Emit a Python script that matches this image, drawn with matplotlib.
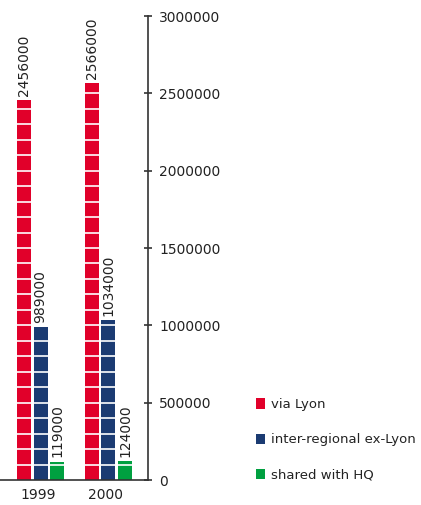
import matplotlib
matplotlib.use("Agg")
import matplotlib.pyplot as plt
from matplotlib.patches import Patch
import numpy as np

years = ["1999", "2000"]
series = ["via Lyon", "inter-regional ex-Lyon", "shared with HQ"]
via_lyon = [2456000, 2566000]
inter_regional = [989000, 1034000]
shared_hq = [119000, 124000]
yticks = [0, 500000, 1000000, 1500000, 2000000, 2500000, 3000000]

colors = ["#E1002A", "#1B3B72", "#00A040"]
txt = "#222222"
plt.rcParams["font.family"] = ["DejaVu Sans"]

fig = plt.figure(figsize=(4.21, 5.05), dpi=100)
ax = fig.add_axes([0.0, 0.0495, 0.3515, 0.9188])

values = [via_lyon, inter_regional, shared_hq]
x = np.arange(len(years))
step = 0.247
width = 0.206
for j, (vals, c) in enumerate(zip(values, colors)):
    xs = x + (j - 1) * step
    ax.bar(xs, vals, width=width, color=c, zorder=2)
    for xi, v in zip(xs, vals):
        levels = np.arange(100000, v, 100000)
        ax.hlines(levels, xi - width / 2, xi + width / 2, color="white", lw=1.2, zorder=3)
        ax.annotate(str(v), (xi, v), xytext=(0, 3), textcoords="offset points",
                    rotation=90, ha="center", va="bottom", fontsize=10, color=txt)

ax.set_xlim(-0.596, 1.581)
ax.set_ylim(0, 3000000)
ax.set_xticks(x - 0.04)
ax.set_xticklabels(years, fontsize=10, color=txt)
ax.tick_params(axis="x", length=0, pad=6)
ax.yaxis.tick_right()
ax.set_yticks(yticks)
ax.set_yticklabels([str(t) for t in yticks], fontsize=10, color=txt)
ax.tick_params(axis="y", direction="inout", length=6, width=1.2, color="#333333", pad=5)
for s in ["left", "top"]:
    ax.spines[s].set_visible(False)
ax.spines["right"].set_color("#333333")
ax.spines["right"].set_linewidth(1.2)
ax.spines["bottom"].set_color("#333333")
ax.spines["bottom"].set_linewidth(1.2)

handles = [Patch(facecolor=c, edgecolor="none") for c in colors]
fig.legend(handles, series, loc="upper left", bbox_to_anchor=(0.608, 0.212),
           frameon=False, fontsize=9.5, handlelength=0.65, handleheight=0.85,
           handletextpad=0.5, labelspacing=1.7, borderpad=0, borderaxespad=0,
           labelcolor=txt)

fig.savefig("out.png", dpi=100)
